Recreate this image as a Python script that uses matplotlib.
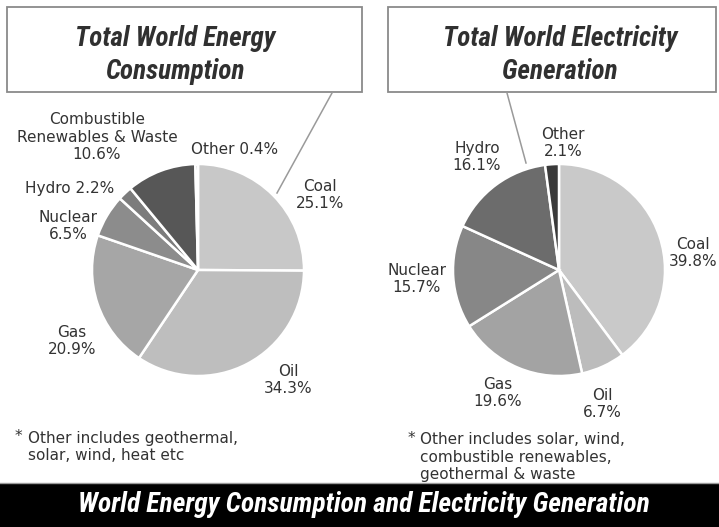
import matplotlib.pyplot as plt
from matplotlib.patches import Rectangle

# Energy consumption shares (%), clockwise from 12 o'clock
energy_labels = ['Coal', 'Oil', 'Gas', 'Nuclear', 'Hydro', 'Combustible Renewables & Waste', 'Other']
energy_values = [25.1, 34.3, 20.9, 6.5, 2.2, 10.6, 0.4]
energy_colors = ['#c8c8c8', '#bebebe', '#a6a6a6', '#8c8c8c', '#7c7c7c', '#575757', '#202020']

# Electricity generation shares (%), clockwise from 12 o'clock
elec_labels = ['Coal', 'Oil', 'Gas', 'Nuclear', 'Hydro', 'Other']
elec_values = [39.8, 6.7, 19.6, 15.7, 16.1, 2.1]
elec_colors = ['#c9c9c9', '#bcbcbc', '#a3a3a3', '#878787', '#6c6c6c', '#3a3a3a']

W, H = 719, 527
fig = plt.figure(figsize=(W / 100, H / 100), dpi=100)
ax = fig.add_axes([0, 0, 1, 1])

def Y(y):
    # top-down pixel row -> data y
    return H - y

wp = dict(edgecolor='white', linewidth=1.8)
ax.pie(energy_values, colors=energy_colors, startangle=90, counterclock=False,
       center=(198, Y(270)), radius=106, wedgeprops=wp)
ax.pie(elec_values, colors=elec_colors, startangle=90, counterclock=False,
       center=(559, Y(270)), radius=106, wedgeprops=wp)

ax.set_xlim(0, W)
ax.set_ylim(0, H)
ax.set_aspect('equal')
ax.axis('off')

narrow = ['Roboto Condensed', 'Fira Sans Condensed', 'Barlow Condensed', 'Archivo Narrow',
          'PT Sans Narrow', 'Sofia Sans Condensed', 'Liberation Sans Narrow', 'DejaVu Sans']

# title boxes with pointer lines
title_font = dict(family=narrow, fontweight='bold', fontstyle='italic', fontsize=19.5,
                  color='#303030')
ax.add_patch(Rectangle((7, Y(92)), 355, 85, fill=False, edgecolor='#8a8a8a', lw=1.3))
ax.add_patch(Rectangle((388, Y(92)), 328, 85, fill=False, edgecolor='#8a8a8a', lw=1.3))
ax.plot([332, 277], [Y(93), Y(193)], color='#9a9a9a', lw=1.1)
ax.plot([507, 526], [Y(93), Y(163)], color='#9a9a9a', lw=1.1)
ax.text(175, Y(55), 'Total World Energy\nConsumption', ha='center', va='center',
        linespacing=1.3, **title_font)
ax.text(560, Y(55), 'Total World Electricity\nGeneration', ha='center', va='center',
        linespacing=1.3, **title_font)

# slice labels
lab = dict(family='DejaVu Sans', fontsize=11, color='#333333', ha='center', va='center',
           linespacing=1.22)
ax.text(97, Y(137), 'Combustible\nRenewables & Waste\n%.1f%%' % energy_values[5], **lab)
ax.text(235, Y(150), 'Other %.1f%%' % energy_values[6], **lab)
ax.text(320, Y(195), 'Coal\n%.1f%%' % energy_values[0], **lab)
ax.text(70, Y(188), 'Hydro %.1f%%' % energy_values[4], **lab)
ax.text(68, Y(226), 'Nuclear\n%.1f%%' % energy_values[3], **lab)
ax.text(72, Y(341), 'Gas\n%.1f%%' % energy_values[2], **lab)
ax.text(288, Y(380), 'Oil\n%.1f%%' % energy_values[1], **lab)

ax.text(477, Y(157), 'Hydro\n%.1f%%' % elec_values[4], **lab)
ax.text(563, Y(143), 'Other\n%.1f%%' % elec_values[5], **lab)
ax.text(693, Y(253), 'Coal\n%.1f%%' % elec_values[0], **lab)
ax.text(417, Y(279), 'Nuclear\n%.1f%%' % elec_values[3], **lab)
ax.text(498, Y(393), 'Gas\n%.1f%%' % elec_values[2], **lab)
ax.text(602, Y(404), 'Oil\n%.1f%%' % elec_values[1], **lab)

# footnotes
note = dict(family='DejaVu Sans', fontsize=11, color='#333333', ha='left', va='center',
            linespacing=1.2)
ax.text(15, Y(436), '*', **note)
ax.text(28, Y(447), 'Other includes geothermal,\nsolar, wind, heat etc', **note)
ax.text(408, Y(438), '*', **note)
ax.text(420, Y(457), 'Other includes solar, wind,\ncombustible renewables,\ngeothermal & waste', **note)

# bottom banner
ax.add_patch(Rectangle((0, 0), W, Y(483), facecolor='black', edgecolor='none'))
ax.plot([0, W], [Y(483), Y(483)], color='#9a9a9a', lw=1)
ax.text(364, Y(505), 'World Energy Consumption and Electricity Generation', ha='center',
        va='center', color='white', family=narrow, fontweight='bold', fontstyle='italic',
        fontsize=19.8)

fig.savefig('out.png', dpi=100, facecolor='white')
